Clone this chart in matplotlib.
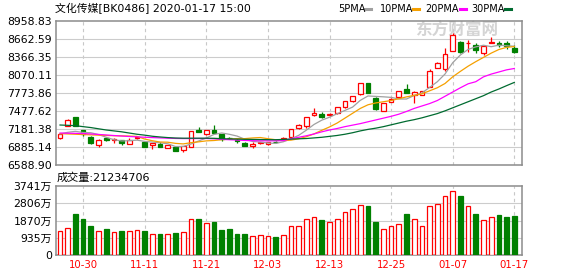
import numpy as np
import matplotlib
matplotlib.use("Agg")
import matplotlib.pyplot as plt

plt.rcParams['font.family'] = ['DejaVu Sans', 'Noto Sans CJK SC']

title = "文化传媒[BK0486] 2020-01-17 15:00"
vol_title = "成交量:21234706"

opens = [7038, 7231, 7379, 7165, 7050, 6913, 7028, 7005, 6995, 6935,
         7028, 6973, 6913, 6940, 6874, 6890, 6831, 6890, 7170, 7104,
         7170, 7099, 7040, 7005, 6956, 6907, 6955, 6930, 6975, 7000,
         7045, 7193, 7236, 7407, 7433, 7413, 7440, 7539, 7638, 7753,
         7939, 7697, 7483, 7626, 7703, 7840, 7736, 7741, 7878, 8191,
         8164, 8470, 8619, 8590, 8564, 8428, 8603, 8602, 8592, 8520]
closes = [7094, 7330, 7231, 7099, 6946, 7005, 6995, 7012, 6946, 6995,
          7050, 6890, 6951, 6885, 6913, 6824, 6897, 7149, 7137, 7160,
          7116, 7017, 7030, 6990, 6902, 6935, 6963, 6963, 6960, 7033,
          7181, 7247, 7374, 7450, 7384, 7420, 7539, 7642, 7725, 7939,
          7779, 7506, 7605, 7680, 7807, 7779, 7796, 7807, 8141, 8273,
          8411, 8729, 8444, 8598, 8482, 8548, 8609, 8569, 8548, 8444]
highs = [7100, 7340, 7385, 7170, 7060, 7010, 7050, 7040, 7000, 7028,
         7055, 6980, 6955, 6963, 6918, 6895, 6900, 7155, 7214, 7165,
         7247, 7105, 7048, 7028, 6965, 6963, 6973, 6968, 6985, 7050,
         7186, 7269, 7380, 7522, 7461, 7440, 7545, 7650, 7730, 7945,
         7945, 7705, 7612, 7688, 7815, 7922, 7802, 7812, 8169, 8280,
         8510, 8757, 8625, 8646, 8592, 8553, 8701, 8635, 8635, 8564]
lows = [7022, 7225, 7225, 7071, 6930, 6890, 6990, 6950, 6918, 6930,
        7020, 6885, 6857, 6880, 6870, 6818, 6798, 6885, 7130, 7083,
        7110, 6984, 7022, 6946, 6895, 6874, 6930, 6925, 6950, 6995,
        7040, 7188, 7203, 7400, 7358, 7400, 7435, 7535, 7632, 7748,
        7775, 7494, 7478, 7620, 7698, 7772, 7605, 7735, 7870, 8185,
        8141, 8465, 8438, 8453, 8428, 8400, 8600, 8536, 8493, 8428]

ma5 = [7099, 7127, 7143, 7124, 7120, 7090, 7045, 7005, 6985, 6989,
       6998, 6977, 6966, 6954, 6938, 6893, 6894, 6934, 6984, 7033,
       7092, 7116, 7094, 7065, 7013, 6977, 6966, 6951, 6944, 6971,
       7020, 7077, 7163, 7257, 7327, 7375, 7433, 7487, 7542, 7653,
       7725, 7718, 7711, 7702, 7675, 7675, 7733, 7774, 7866, 7959,
       8086, 8272, 8400, 8491, 8533, 8560, 8536, 8561, 8551, 8544]
ma10 = [7105, 7100, 7095, 7090, 7085, 7080, 7075, 7071, 7068, 7065,
        7060, 7016, 6988, 6967, 6964, 6945, 6936, 6956, 6970, 6986,
        6992, 7005, 7014, 7024, 7023, 7034, 7041, 7022, 7005, 6992,
        6998, 7021, 7055, 7101, 7160, 7215, 7280, 7360, 7440, 7520,
        7580, 7610, 7630, 7650, 7680, 7710, 7735, 7760, 7810, 7860,
        7930, 8040, 8130, 8215, 8290, 8360, 8430, 8490, 8525, 8538]
ma20 = [7115, 7112, 7110, 7106, 7100, 7092, 7083, 7074, 7066, 7058,
        7052, 7046, 7040, 7035, 7030, 7026, 7024, 7024, 7025, 7025,
        7020, 7011, 7005, 7000, 6993, 6989, 6987, 6986, 6987, 6990,
        7020, 7045, 7070, 7100, 7135, 7165, 7190, 7220, 7245, 7270,
        7300, 7330, 7360, 7390, 7425, 7470, 7520, 7560, 7600, 7650,
        7720, 7790, 7860, 7925, 7960, 8040, 8085, 8120, 8155, 8177]
ma30 = [7247, 7242, 7236, 7220, 7205, 7185, 7165, 7150, 7135, 7115,
        7095, 7080, 7062, 7050, 7040, 7033, 7030, 7030, 7030, 7030,
        7028, 7022, 7018, 7015, 7012, 7010, 7008, 7006, 7005, 7010,
        7015, 7020, 7025, 7035, 7045, 7060, 7075, 7095, 7120, 7150,
        7175, 7195, 7220, 7250, 7280, 7310, 7335, 7365, 7400, 7435,
        7480, 7530, 7580, 7630, 7680, 7730, 7790, 7840, 7895, 7948]

volume = [1274, 1438, 2220, 1947, 1565, 1274, 1401, 1219, 1292, 1274,
          1329, 1292, 1110, 1128, 1110, 1183, 1219, 1929, 1947, 1711,
          1784, 1347, 1401, 1128, 1128, 1001, 1056, 1001, 965, 1056,
          1547, 1547, 1929, 2038, 1893, 1765, 1929, 2311, 2493, 2694,
          2657, 1784, 1383, 1547, 1656, 2220, 1929, 1547, 2639, 2748,
          3185, 3458, 3203, 2639, 2220, 1875, 2038, 2166, 2057, 2123]

price_ticks = [6588.90, 6885.14, 7181.38, 7477.62, 7773.86, 8070.11, 8366.35, 8662.59, 8958.83]
price_labels = ["6588.90", "6885.14", "7181.38", "7477.62", "7773.86", "8070.11", "8366.35", "8662.59", "8958.83"]
vol_ticks = [0, 935, 1870, 2806, 3741]
vol_labels = ["0", "935万", "1870万", "2806万", "3741万"]
date_pos = [3, 11, 19, 27, 35, 43, 51, 59]
date_labels = ["10-30", "11-11", "11-21", "12-03", "12-13", "12-25", "01-07", "01-17"]

ma_names = ["5PMA", "10PMA", "20PMA", "30PMA"]
ma_colors = ["#a0a0a0", "#f5a000", "#ff00ff", "#006b30"]

W, H = 578, 276
fig = plt.figure(figsize=(W / 100, H / 100), dpi=100)
ax = fig.add_axes([56 / W, 1 - 165 / H, 466 / W, 144 / H])
axv = fig.add_axes([56 / W, 1 - 254.7 / H, 466 / W, 68.4 / H])

RED = "#ff0000"
GREEN = "#008000"
frame = "#8c8c8c"
x = np.arange(len(closes))

# watermark behind everything
ax.text(0.86, 0.93, "东方财富网", transform=ax.transAxes, fontsize=12,
        color="#d4d4d4", ha="center", va="center", fontweight="bold", zorder=1)

for a in (ax, axv):
    a.set_xlim(-0.52, 60.0)
    for s in a.spines.values():
        s.set_color(frame)
        s.set_linewidth(1.1)
    a.tick_params(length=0, labelsize=7.8, pad=3, colors="#000000")
    for p in date_pos:
        a.axvline(p, color="#c8c8c8", lw=0.8, ls=(0, (3, 3)), zorder=0)
    a.set_xticks(date_pos)

ax.set_ylim(price_ticks[0], price_ticks[-1])
ax.set_yticks(price_ticks)
ax.set_yticklabels(price_labels)
ax.set_xticklabels([])
for t in price_ticks[1:-1]:
    ax.axhline(t, color="#cccccc", lw=0.8, zorder=0)

# candles
for i in x:
    o, c, h, l = opens[i], closes[i], highs[i], lows[i]
    up = c >= o
    col = RED if up else GREEN
    ax.vlines(i, l, h, color=col, lw=0.9, zorder=2)
    body = max(abs(c - o), 10)
    ax.bar(i, body, bottom=min(o, c), width=0.6,
           facecolor="white" if up else col, edgecolor=col, linewidth=0.9, zorder=3)

for vals, col in zip([ma5, ma10, ma20, ma30], ma_colors):
    ax.plot(x, vals, color=col, lw=0.9, zorder=4)

# volume
axv.set_ylim(0, 3741)
axv.set_yticks(vol_ticks)
axv.set_yticklabels(vol_labels)
for t in vol_ticks[1:-1]:
    axv.axhline(t, color="#cccccc", lw=0.8, zorder=0)
for i in x:
    up = closes[i] >= opens[i]
    col = RED if up else GREEN
    axv.bar(i, volume[i], width=0.6, facecolor="white" if up else col,
            edgecolor=col, linewidth=0.9, zorder=3)
axv.set_xticklabels(date_labels, color=RED, fontsize=7.3)
axv.tick_params(axis="x", pad=4)

# texts
fig.text(55 / W, 1 - 9 / H, title, fontsize=7.8, va="center", ha="left")
fig.text(57 / W, 1 - 178 / H, vol_title, fontsize=8, va="center", ha="left")

leg_x = [338, 380, 425, 471]
dash_x = [365, 413, 460, 505]
for name, col, tx, dx in zip(ma_names, ma_colors, leg_x, dash_x):
    fig.text(tx / W, 1 - 9 / H, name, fontsize=7, va="center", ha="left")
    fig.add_artist(plt.Line2D([dx / W, (dx + 6) / W], [1 - 9 / H, 1 - 9 / H],
                              color=col, lw=2.2, transform=fig.transFigure))

fig.savefig("out.png", dpi=100)
